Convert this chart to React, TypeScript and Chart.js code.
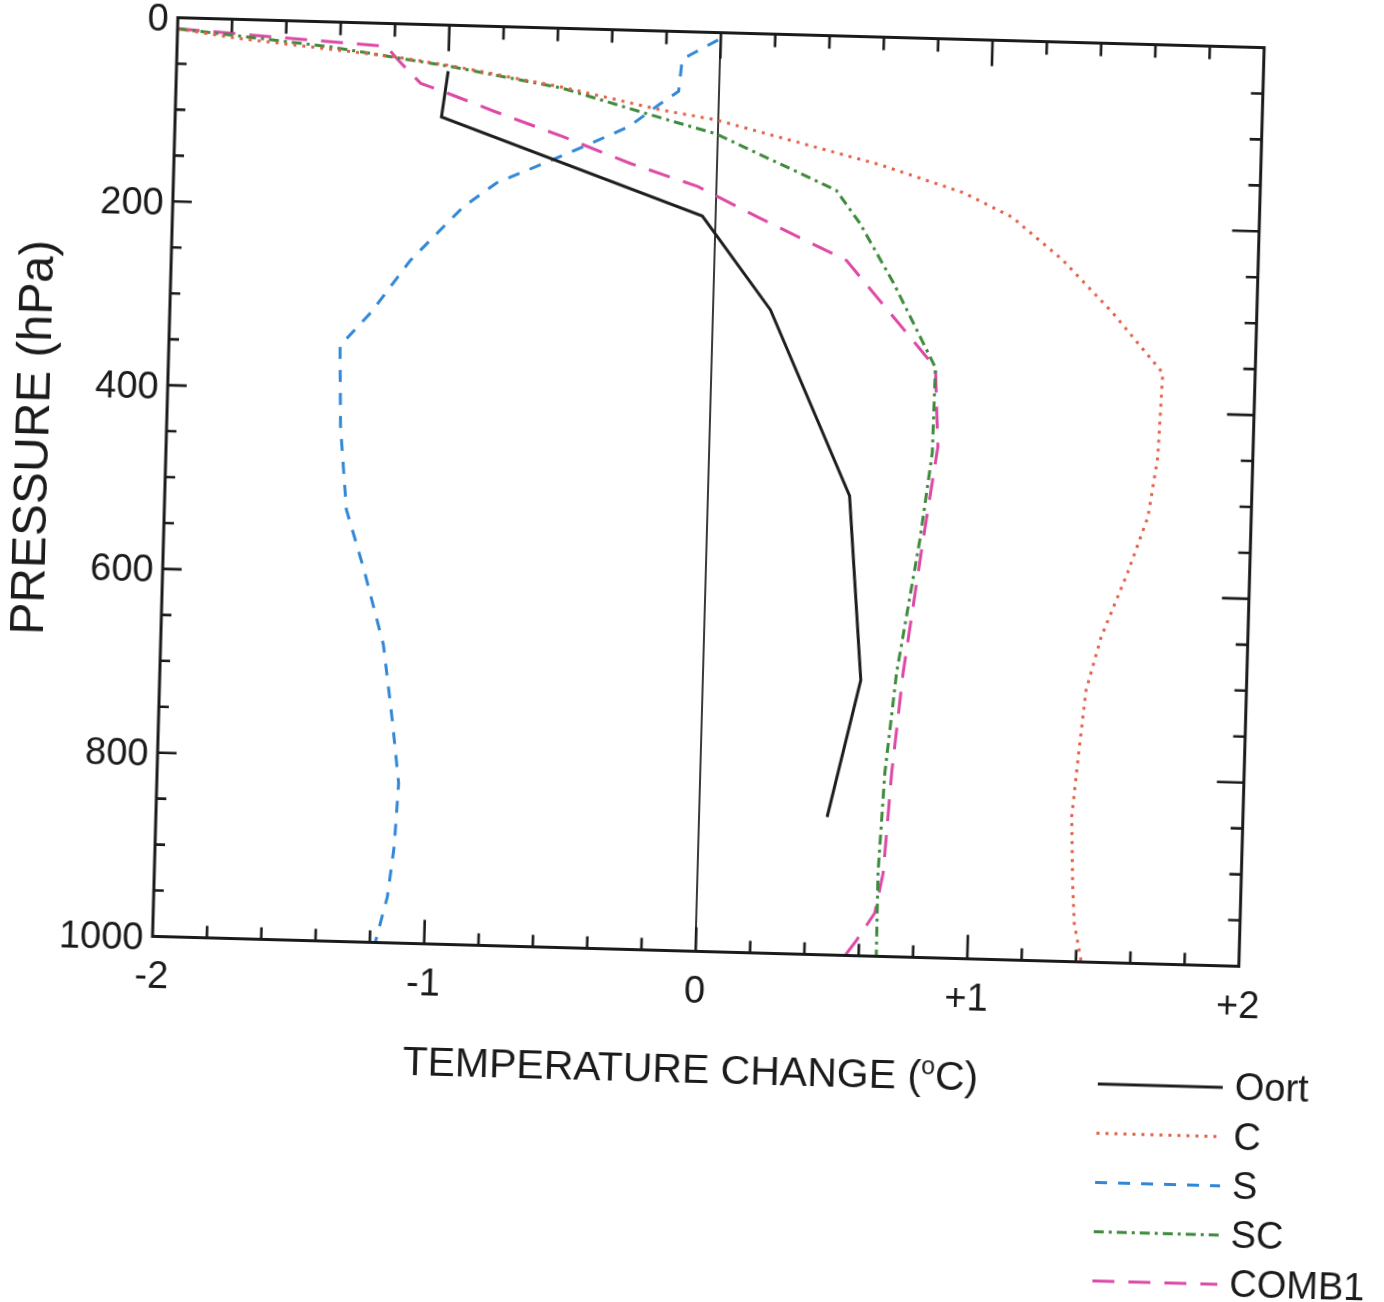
import React, { useEffect, useRef } from 'react';
import { Chart, registerables } from 'chart.js';

Chart.register(...registerables);

// ---- data (temperature change in °C at pressure levels in hPa) ----
const seriesNames = ['Oort', 'C', 'S', 'SC', 'COMB1'];

const oortP = [50, 100, 200, 300, 500, 700, 850];
const oortT = [-1.0, -1.02, -0.05, 0.21, 0.52, 0.58, 0.47];

const cP = [12, 20, 36, 44, 64, 86, 95, 139, 167, 192, 237, 293, 357, 449, 514, 576, 646, 704, 770, 842, 914, 958, 1000];
const cT = [-2.0, -1.8, -1.2, -0.99, -0.58, -0.21, -0.01, 0.6, 0.91, 1.09, 1.28, 1.47, 1.66, 1.65, 1.62, 1.55, 1.46, 1.41, 1.39, 1.37, 1.38, 1.39, 1.42];

const sP = [8, 30, 65, 80, 105, 126, 145, 170, 197, 257, 315, 352, 440, 530, 594, 676, 757, 826, 895, 950, 1000];
const sT = [-0.01, -0.14, -0.15, -0.22, -0.33, -0.48, -0.62, -0.81, -0.93, -1.12, -1.26, -1.37, -1.36, -1.33, -1.26, -1.18, -1.14, -1.11, -1.12, -1.14, -1.18];

const scP = [12, 27, 45, 65, 90, 110, 168, 203, 267, 358, 451, 546, 691, 800, 909, 1000];
const scT = [-2.0, -1.44, -0.99, -0.58, -0.27, -0.01, 0.44, 0.53, 0.66, 0.823, 0.82, 0.783, 0.711, 0.678, 0.663, 0.665];

const combP = [12, 25, 41, 64, 74, 93, 118, 145, 168, 199, 244, 358, 444, 546, 691, 800, 909, 953, 983, 1000];
const combT = [-2.0, -1.23, -1.18, -1.1, -1.0, -0.82, -0.57, -0.32, -0.07, 0.15, 0.485, 0.823, 0.84, 0.795, 0.735, 0.703, 0.682, 0.655, 0.591, 0.55];

const xTickValues = [-2, -1, 0, 1, 2];
const yTickValues = [0, 200, 400, 600, 800, 1000];

const xTitle = 'TEMPERATURE CHANGE (';
const xTitleSup = 'o';
const xTitleEnd = 'C)';
const yTitle = 'PRESSURE (hPa)';

// ---- layout constants ----
const W = 1460;
const H = 1380;
const AREA_LEFT = 165;
const AREA_TOP = 32.5;
const AREA_RIGHT = 1251.7;
const AREA_BOTTOM = 951.5;
const FONT = "'Liberation Sans', Arial, Helvetica, sans-serif";
const INK = '#1b1b1b';

const toPts = (ts: number[], ps: number[]) => ts.map((t, i) => ({ x: t, y: ps[i] }));

const framePlugin = {
  id: 'framePlugin',
  afterDraw(chart: any) {
    const ctx = chart.ctx;
    const { left, top, right, bottom } = chart.chartArea;
    const xs = chart.scales.x;
    const ys = chart.scales.y;
    ctx.save();
    ctx.strokeStyle = INK;
    ctx.lineWidth = 3;
    ctx.setLineDash([]);
    ctx.lineCap = 'butt';
    ctx.strokeRect(left, top, right - left, bottom - top);

    // inside tick marks
    ctx.lineWidth = 2.6;
    for (let i = -9; i <= 9; i++) {
      const px = xs.getPixelForValue(i / 5);
      const major = i % 5 === 0;
      ctx.beginPath();
      ctx.moveTo(px, top);
      ctx.lineTo(px, top + (major ? 26 : 13));
      ctx.moveTo(px, bottom);
      ctx.lineTo(px, bottom - (major ? 24 : 12));
      ctx.stroke();
    }
    for (let i = 1; i < 20; i++) {
      const py = ys.getPixelForValue(i * 50);
      const major = i % 4 === 0;
      ctx.beginPath();
      ctx.moveTo(left, py);
      ctx.lineTo(left + (major ? 19 : 10), py);
      ctx.moveTo(right, py);
      ctx.lineTo(right - (major ? 27 : 12), py);
      ctx.stroke();
    }

    // axis titles
    ctx.fillStyle = INK;
    ctx.textBaseline = 'alphabetic';
    const big = 41;
    ctx.font = `${big}px ${FONT}`;
    const w1 = ctx.measureText(xTitle).width;
    const w3 = ctx.measureText(xTitleEnd).width;
    ctx.font = `${Math.round(big * 0.62)}px ${FONT}`;
    const w2 = ctx.measureText(xTitleSup).width;
    const total = w1 + w2 + w3;
    const cx = (left + right) / 2 - 2;
    const baseY = 1083;
    const x0 = cx - total / 2;
    ctx.textAlign = 'left';
    ctx.font = `${big}px ${FONT}`;
    ctx.fillText(xTitle, x0, baseY);
    ctx.font = `${Math.round(big * 0.62)}px ${FONT}`;
    ctx.fillText(xTitleSup, x0 + w1, baseY - 15);
    ctx.font = `${big}px ${FONT}`;
    ctx.fillText(xTitleEnd, x0 + w1 + w2, baseY);

    ctx.save();
    ctx.translate(34, 456);
    ctx.rotate(-Math.PI / 2);
    ctx.textAlign = 'center';
    ctx.textBaseline = 'middle';
    ctx.font = `48px ${FONT}`;
    ctx.fillText(yTitle, 0, 0);
    ctx.restore();

    // legend
    ctx.font = `38px ${FONT}`;
    ctx.textAlign = 'left';
    ctx.textBaseline = 'middle';
    chart.data.datasets.forEach((ds: any, i: number) => {
      const y = 1073 + i * 49.25;
      ctx.save();
      ctx.strokeStyle = ds.borderColor;
      ctx.lineWidth = ds.borderWidth;
      ctx.setLineDash(ds.borderDash || []);
      ctx.lineCap = 'butt';
      ctx.beginPath();
      ctx.moveTo(1114, y);
      ctx.lineTo(1239, y);
      ctx.stroke();
      ctx.restore();
      ctx.fillStyle = INK;
      ctx.fillText(ds.label, 1251, y + 2);
    });
    ctx.restore();
  },
};

export default function App() {
  const ref = useRef<HTMLCanvasElement | null>(null);

  useEffect(() => {
    if (!ref.current) return;
    const mk = (label: string, pts: any[], color: string, dash: number[], width: number) => ({
      label,
      data: pts,
      showLine: true,
      borderColor: color,
      backgroundColor: color,
      borderWidth: width,
      borderDash: dash,
      pointRadius: 0,
      tension: 0,
      fill: false,
    });
    const chart = new Chart(ref.current, {
      type: 'scatter',
      data: {
        datasets: [
          mk(seriesNames[0], toPts(oortT, oortP), '#1e1e1e', [], 3),
          mk(seriesNames[1], toPts(cT, cP), '#e2614a', [3, 6], 3),
          mk(seriesNames[2], toPts(sT, sP), '#3388d6', [12, 11], 3),
          mk(seriesNames[3], toPts(scT, scP), '#3f8a3c', [10, 5, 3, 5], 3),
          mk(seriesNames[4], toPts(combT, combP), '#dc4aa6', [22, 14], 3),
        ],
      },
      options: {
        responsive: false,
        animation: false,
        devicePixelRatio: 1,
        layout: {
          padding: { left: 0, top: AREA_TOP, right: W - AREA_RIGHT, bottom: 0 },
        },
        plugins: {
          legend: { display: false },
          tooltip: { enabled: false },
          title: { display: false },
        },
        scales: {
          x: {
            type: 'linear',
            min: -2,
            max: 2,
            afterFit: (s: any) => { s.height = H - AREA_BOTTOM; },
            afterBuildTicks: (s: any) => { s.ticks = xTickValues.map((v) => ({ value: v })); },
            ticks: {
              padding: 18,
              maxRotation: 0,
              autoSkip: false,
              color: INK,
              font: { family: FONT, size: 38 },
              callback: (v: any) => (Number(v) > 0 ? '+' + v : String(v)),
            },
            grid: {
              drawTicks: false,
              lineWidth: 2,
              color: (c: any) => (c.tick && c.tick.value === 0 ? '#3a3a3a' : 'rgba(0,0,0,0)'),
            },
            border: { display: false },
          },
          y: {
            type: 'linear',
            reverse: true,
            min: 0,
            max: 1000,
            afterFit: (s: any) => { s.width = AREA_LEFT; },
            afterBuildTicks: (s: any) => { s.ticks = yTickValues.map((v) => ({ value: v })); },
            ticks: {
              padding: 9,
              labelOffset: 3,
              color: INK,
              font: { family: FONT, size: 38 },
              callback: (v: any) => String(v),
            },
            grid: { display: false, drawTicks: false },
            border: { display: false },
          },
        },
      },
      plugins: [framePlugin],
    } as any);
    return () => chart.destroy();
  }, []);

  return (
    <div
      style={{
        position: 'absolute',
        left: 0,
        top: 0,
        width: 1384,
        height: 1302,
        overflow: 'hidden',
        background: '#ffffff',
      }}
    >
      <canvas
        ref={ref}
        width={W}
        height={H}
        style={{
          position: 'absolute',
          left: 0,
          top: 0,
          width: W,
          height: H,
          transform: 'rotate(1.58deg)',
          transformOrigin: '708px 492px',
        }}
      />
    </div>
  );
}
